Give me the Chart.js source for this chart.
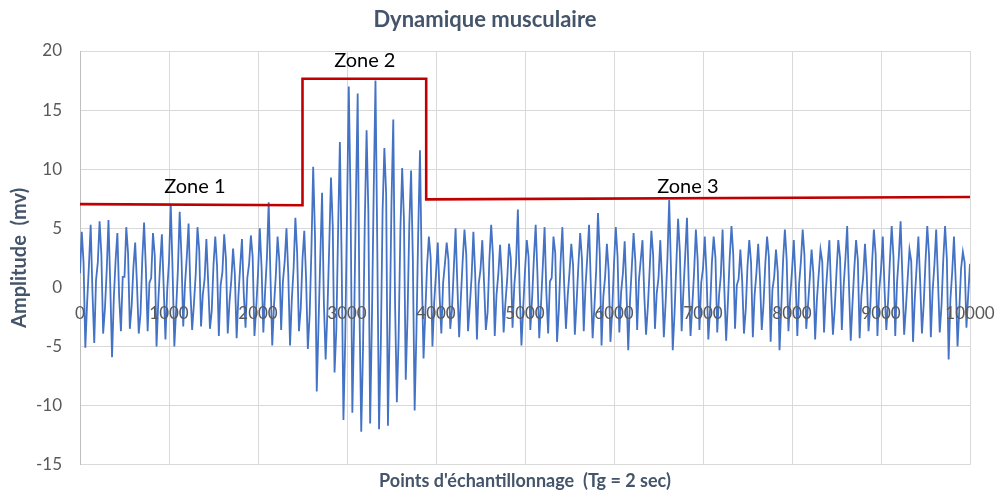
<!DOCTYPE html>
<html>
<head>
<meta charset="utf-8">
<title>Dynamique musculaire</title>
<script src="https://cdn.jsdelivr.net/npm/chart.js@4.4.1/dist/chart.umd.min.js"></script>
<style>
  html, body { margin: 0; padding: 0; background: #fff; }
</style>
</head>
<body>
<canvas id="emgChart" width="998" height="493"></canvas>
<script>
// EMG signal, one value every 20 samples (5 values per oscillation)
const sampleStep = 20;
const amplitude = [
  // zone 1
  1.2, 4.7, 2.1, -5.1, -1.3,  1.8, 5.3, -0.4, -4.7, 0.6,  2.1, 5.6, 2.8, -3.9, -1.8,  1.4, 5.7, 0.2, -5.9, -0.9,
  2.3, 4.6, -0.8, -3.7, 0.9,  0.9, 5.1, 2.9, -3.5, -1.6,  1.7, 3.8, 0.3, -3.9, -2.2,  2.4, 5.5, 1.6, -3.7, 0.4,
  0.8, 4.6, 2.7, -5.0, -1.1,  1.9, 4.5, 0.1, -4.4, -0.2,  2.2, 7.0, 1.5, -5.0, -1.9,  1.5, 6.4, 2.6, -3.3, 0.3,
  2.6, 5.4, -0.2, -3.6, -1.4,  1.1, 5.1, 3.1, -3.3, -0.6,  0.7, 4.1, 0.5, -3.5, -2.0,  1.9, 4.3, 1.8, -4.1, 0.2,
  1.3, 4.5, 2.4, -3.9, -1.2,  0.6, 3.3, 1.1, -4.3, -0.7,  1.8, 4.1, -0.5, -3.4, 0.8,  2.0, 4.4, 2.6, -4.1, -1.7,
  1.2, 5.0, 1.7, -3.8, -0.3,  2.5, 7.2, 0.9, -4.9, -1.5,  1.0, 4.3, 2.2, -3.6, 0.5,  2.2, 5.0, 1.2, -4.9, -1.0,
  1.6, 5.9, 2.9, -3.7, -1.8,
  // zone 2
  2.4, 4.8, 0.8, -5.2, -2.4,  3.1, 10.2, 4.5, -8.8, -3.1,  2.6, 8.0, -1.2, -6.1, -2.0,  3.4, 9.3, 5.2, -7.2, -3.6,
  4.8, 12.3, 2.1, -11.2, -4.4,  6.2, 17.0, 7.5, -10.6, -3.0,  7.4, 16.4, -1.8, -12.2, -5.1,  5.6, 13.3, 6.4, -11.5, -2.7,
  8.1, 17.5, 3.6, -12.0, -4.8,  6.5, 11.8, 7.9, -11.7, -3.3,  7.2, 14.2, -1.4, -9.7, -4.2,  4.9, 10.1, 5.7, -7.8, -2.5,
  5.3, 9.9, 2.3, -10.4, -3.8,  4.6, 11.6, 1.3, -6.0, -2.1,
  // zone 3
  1.9, 4.3, 2.5, -5.0, -1.2,  1.2, 3.8, -0.6, -3.9, 0.4,  2.0, 3.8, 2.3, -3.5, -1.8,  1.6, 5.0, 0.2, -4.2, -0.8,
  2.3, 4.9, 2.8, -3.7, -1.5,  0.9, 4.7, 1.2, -4.4, 0.3,  1.5, 4.0, 0.4, -3.6, -2.1,  2.4, 5.3, 2.7, -4.1, -0.6,
  1.1, 3.6, 0.8, -3.8, -1.3,  0.7, 3.7, 2.5, -3.4, 0.2,  2.1, 6.6, -0.2, -4.9, -1.7,  1.4, 4.0, 2.6, -3.6, -0.9,
  2.5, 5.3, 1.1, -4.3, -1.4,  1.8, 5.1, -0.4, -3.9, 0.5,  0.8, 4.3, 2.9, -4.6, -1.9,  2.2, 5.1, 0.3, -3.5, -0.7,
  1.3, 3.7, 1.9, -4.0, -1.2,  1.9, 4.6, 2.4, -3.7, 0.1,  2.6, 5.3, 0.1, -4.3, -1.6,  1.5, 6.3, 2.8, -4.9, -0.8,
  0.9, 3.7, 1.4, -4.6, -2.0,  2.0, 5.1, 2.6, -3.8, -0.4,  1.2, 3.9, -0.3, -5.3, -1.1,  1.7, 4.6, 2.2, -3.6, 0.6,
  2.3, 4.0, -0.6, -4.0, -1.7,  1.4, 4.8, 2.7, -3.5, -0.5,  0.8, 4.0, 0.5, -4.2, -1.3,  2.4, 7.4, 1.6, -5.3, -2.2,
  1.9, 5.8, 3.0, -3.7, -0.3,  2.7, 5.9, 0.2, -4.1, -1.5,  1.3, 4.9, 2.3, -3.6, 0.4,  1.6, 4.3, 1.1, -4.4, -1.8,
  2.1, 4.3, 2.5, -3.8, -0.7,  1.0, 4.9, -0.2, -4.5, -1.2,  2.5, 5.2, 2.8, -3.5, 0.2,  0.7, 3.2, 0.6, -3.9, -1.9,
  1.8, 4.0, 2.1, -4.2, -0.6,  1.2, 3.7, 0.8, -3.6, -1.4,  2.0, 4.3, 2.6, -4.6, -0.2,  0.9, 3.2, 1.3, -5.3, -1.6,
  2.3, 4.9, 2.4, -3.7, -0.8,  1.4, 4.0, 0.7, -4.1, 0.3,  2.2, 4.9, 2.7, -3.5, -1.5,  0.8, 3.2, 1.2, -4.4, -1.0,
  1.1, 3.2, 2.2, -3.8, -0.4,  1.9, 4.0, -0.4, -4.0, -1.8,  1.3, 4.0, 2.5, -3.6, 0.1,  2.4, 5.2, 0.2, -4.5, -1.3,
  1.6, 4.0, 2.3, -4.3, -0.7,  0.9, 3.7, 1.1, -3.7, -1.6,  2.1, 4.9, 2.8, -4.1, -0.2,  1.5, 4.3, -0.2, -3.6, -1.1,
  2.3, 5.2, 2.6, -4.1, 0.4,  2.6, 5.6, 1.0, -4.0, -1.7,  0.8, 3.2, 2.2, -4.6, -0.9,  1.7, 4.3, 0.5, -3.9, -1.4,
  2.2, 5.2, 2.7, -4.2, -0.3,  1.9, 4.9, 0.7, -3.8, -1.5,  2.4, 5.2, 2.4, -6.1, -1.0,  1.3, 4.3, 0.4, -5.0, -1.8,
  1.6, 3.0, 2.1, -3.4, -0.6,
  2.0
];

// red envelope marking the three zones
const envelopeX = [0, 2500, 2500, 3890, 3890, 10000];
const envelopeY = [7.05, 6.95, 17.65, 17.65, 7.45, 7.65];

const zoneNames = ['Zone 1', 'Zone 2', 'Zone 3'];
const zoneX = [1290, 3200, 6830];
const zoneY = [8.5, 19.2, 8.5];

const xMin = 0, xMax = 10000, xStep = 1000;
const yMin = -15, yMax = 20, yStep = 5;

const signal = amplitude.map((v, i) => ({ x: i * sampleStep, y: v }));
const envelope = envelopeX.map((x, i) => ({ x: x, y: envelopeY[i] }));

Chart.defaults.font.family = 'Lato, "Open Sans", sans-serif';

const zoneLabels = {
  id: 'zoneLabels',
  afterDatasetsDraw(chart) {
    const { ctx, scales } = chart;
    ctx.save();
    ctx.font = '20px Lato, sans-serif';
    ctx.fillStyle = '#000';
    ctx.textAlign = 'center';
    ctx.textBaseline = 'middle';
    zoneNames.forEach((name, i) => {
      ctx.fillText(name, scales.x.getPixelForValue(zoneX[i]), scales.y.getPixelForValue(zoneY[i]));
    });
    ctx.restore();
  }
};

new Chart(document.getElementById('emgChart'), {
  type: 'line',
  data: {
    datasets: [
      {
        label: 'Amplitude',
        data: signal,
        borderColor: '#4472C4',
        borderWidth: 1.8,
        pointRadius: 0,
        tension: 0,
        order: 2
      },
      {
        label: 'Zones',
        data: envelope,
        borderColor: '#C00000',
        borderWidth: 2.6,
        pointRadius: 0,
        tension: 0,
        order: 1
      }
    ]
  },
  options: {
    responsive: false,
    animation: false,
    layout: { padding: { left: 0, right: 28, top: 0, bottom: 0 } },
    plugins: {
      legend: { display: false },
      tooltip: { enabled: false },
      title: {
        display: true,
        text: 'Dynamique musculaire',
        color: '#44546A',
        font: { size: 22, weight: 'bold' },
        padding: { top: 7, bottom: 17.6 }
      },
      subtitle: {
        display: true,
        position: 'bottom',
        fullSize: false,
        text: "Points d'échantillonnage  (Tg = 2 sec)",
        color: '#44546A',
        font: { size: 18, weight: 'bold' },
        padding: { top: 6, bottom: 0.4 }
      }
    },
    scales: {
      x: {
        type: 'linear',
        position: { y: 0 },
        min: xMin,
        max: xMax,
        border: { display: false },
        grid: { color: '#D9D9D9', drawTicks: false },
        ticks: {
          stepSize: xStep,
          color: '#595959',
          font: { size: 17 },
          padding: 16,
          maxRotation: 0,
          autoSkip: false,
          z: 1,
          callback: v => String(v)
        },
        // labels may overhang the plot edges
        afterFit(scale) { scale.paddingLeft = 0; scale.paddingRight = 0; }
      },
      y: {
        min: yMin,
        max: yMax,
        border: { color: '#BFBFBF' },
        grid: { color: '#D9D9D9', drawTicks: false },
        ticks: {
          stepSize: yStep,
          color: '#595959',
          font: { size: 17 },
          padding: 18
        },
        title: {
          display: true,
          text: 'Amplitude  (mv)',
          color: '#44546A',
          font: { size: 20, weight: 'bold' },
          padding: { top: 8, bottom: 0 }
        },
        afterFit(scale) { scale.width = 80; }
      }
    }
  },
  plugins: [zoneLabels]
});
</script>
</body>
</html>
